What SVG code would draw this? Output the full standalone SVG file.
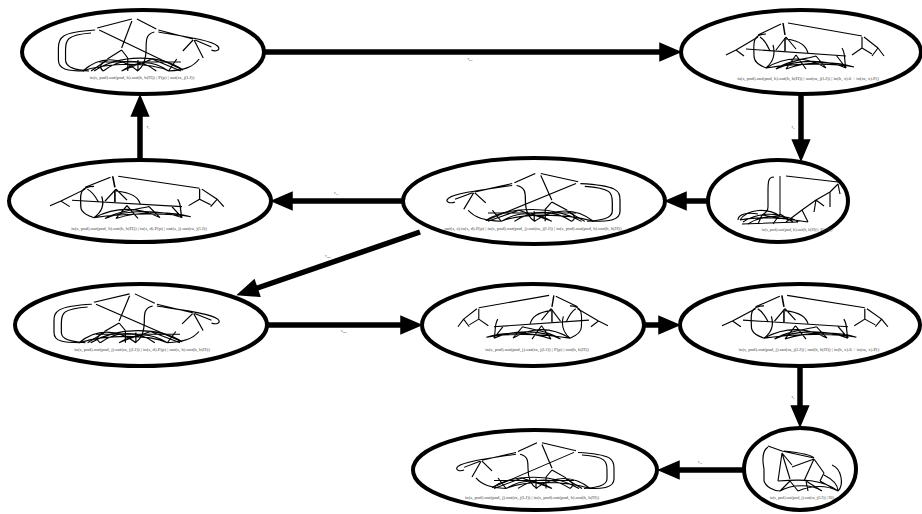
<svg xmlns="http://www.w3.org/2000/svg" xmlns:xlink="http://www.w3.org/1999/xlink" width="922" height="514" viewBox="0 0 922 514">
<style>
  .node { fill: #fff; stroke: #000; stroke-width: 4; }
  .edge { fill: none; stroke: #000; stroke-width: 5.5; }
  .in { fill: none; stroke: #000; stroke-width: 1.15; }
  .lbl { font-family: "Liberation Serif", serif; font-size: 4.8px; fill: #444; text-anchor: middle; }
  .sm { font-size: 4.1px; }
  .elbl { font-family: "Liberation Serif", serif; font-size: 4px; fill: #555; text-anchor: middle; }
</style>
<defs>
  <marker id="arr" markerUnits="userSpaceOnUse" markerWidth="22" markerHeight="20" refX="1" refY="9" orient="auto" overflow="visible">
    <path d="M0,0.5 L20,9 L0,17.5 z" fill="#000" stroke="#000" stroke-width="1.5"/>
  </marker>
  <g id="t1" class="in">
    <path d="M-8,-31 L-42,-22 M-3,-31 L16,-21 M-8,-29 L-18,-2"/>
    <path d="M18,-20 L52,-11 M18,-18 C40,-14 70,-10 76,-4 C80,0 74,2 70,0"/>
    <path d="M52,-10 L42,1 M53,-10 L62,8 M54,-10 L70,-3"/>
    <path d="M-44,-20 C-78,-18 -80,-12 -80,-2 L-80,10 C-80,20 -70,21 -55,21"/>
    <path d="M-48,-17 C-72,-15 -73,-10 -73,0 L-73,10 C-73,18 -62,20 -50,21"/>
    <path d="M-40,-20 L42,20"/>
    <path d="M14,-18 C6,-16 6,-10 6,-2 C6,12 2,18 -3,21"/>
    <path d="M-18,0 L-32,9 M-18,0 L-12,8"/>
    <path d="M-56,21 C-40,6 -20,6 -2,21 M-36,21 C-20,8 0,8 16,21 M-18,21 C-2,10 12,10 28,21 M-56,21 C-30,12 10,12 28,21 M-32,10 C-40,14 -40,18 -36,21 M12,9 C0,14 -10,17 -18,21 M36,9 L28,21 M58,9 C52,17 44,20 28,21 M-45,21 C-20,4 20,4 42,20 M-2,21 L-2,10"/>
    <path d="M-32,10 L-48,21 M-12,8 L-12,21 M12,9 L40,21 M-40,12 L40,12"/>
  </g>
  <g id="t2" class="in">
    <path d="M-8,-26 L-8,12" stroke-width="1.5" stroke="#555"/>
    <path d="M-14,-25 C-20,-25 -20,-20 -20,-10 L-20,5 C-20,10 -24,12 -26,13"/>
    <path d="M-2,-26 L50,-20"/>
    <path d="M50,-18 L42,-10 M50,-18 L52,-8 M42,-10 L28,-2 M42,-10 L42,5 M28,-2 L14,8 M28,-2 L36,4 M28,-2 L26,10"/>
    <path d="M-48,18 C-40,6 -20,6 -8,14 M-45,20 C-30,10 -10,10 0,18 M-40,22 C-25,12 0,12 10,20 M-48,18 C-30,14 0,16 20,20 M-26,13 L-30,22 M-8,12 L-15,22 M-8,12 L5,20 M14,8 L20,20 M14,8 L-2,20 M-26,13 C-10,16 5,18 20,20"/>
    <path d="M-50,18 C-50,12 -40,10 -30,12 M-46,22 L10,20"/>
  </g>
  <g id="t3" class="in">
    <path d="M-34,-23 L-20,-18 M-20,-18 L12,-11 M-18,-18 C0,-16 10,-14 12,-11"/>
    <path d="M-34,-22 C-40,-18 -40,-10 -38,0 L-38,12 C-36,18 -28,22 -22,22"/>
    <path d="M-20,-16 L-24,12 M-20,-16 L-10,-4 M-20,-16 L-12,10"/>
    <path d="M12,-10 L2,12 M12,-10 L22,4 M12,-10 L-10,-2 M22,4 L18,12 M22,6 C30,10 36,16 36,22"/>
    <path d="M-12,12 L-22,22 M-12,12 L-4,22 M4,12 L6,22 M4,12 L20,22 M18,12 L36,22 M-22,22 C-10,15 10,15 20,22 M-4,22 C10,16 25,16 36,22 M-24,12 C0,10 20,10 36,22"/>
    <path d="M30,-4 C40,0 42,16 36,22"/>
  </g>
  <g id="t4" class="in">
    <path d="M-23,-28 L-21,-16 M-21,-13 L-21,0" stroke-width="1.5"/>
    <path d="M-18,-28 L56,-15"/>
    <path d="M-25,-27 L-48,-16 M-48,-14 L-70,-1 M-70,-1 L-80,4 M-70,-1 L-62,5"/>
    <path d="M-46,-14 C-40,-10 -38,-4 -36,0"/>
    <path d="M-20,-14 L-30,-1 M-20,-14 L-10,-2 M-20,-12 C-5,-10 0,-5 2,2"/>
    <path d="M56,-14 L56,-3 M56,-3 L46,4 M56,-3 L66,3 M58,-14 L72,-3 M72,-3 L78,5 M72,-3 L66,5"/>
    <path d="M-40,-17 C-55,-17 -52,-5 -52,5 C-52,12 -45,15 -40,17"/>
    <path d="M-40,17 C-20,5 0,5 20,17 M-30,18 C-10,8 20,8 40,17 M-20,18 C0,10 30,10 48,16 M-40,17 C-10,12 30,12 48,16 M-60,-2 L40,5 M-20,18 L-10,4 M0,18 L-10,4 M20,17 L10,5 M40,17 L30,4 M-30,18 C-20,10 0,8 10,5"/>
    <path d="M36,-3 C40,3 38,12 40,17 M-33,-6 C-30,5 -34,12 -40,17"/>
  </g>
</defs>

<g id="connectors">
  <path class="edge" d="M264,52 L661,52" marker-end="url(#arr)"/>
  <text class="elbl" x="470" y="60">τ<tspan font-size="2.8px" dy="0.8">out</tspan></text>
  <path class="edge" d="M801,95 L801,141" marker-end="url(#arr)"/>
  <text class="elbl" x="793" y="128">τ<tspan font-size="2.8px" dy="0.8">h</tspan></text>
  <path class="edge" d="M708,201 L685,201" marker-end="url(#arr)"/>
  <path class="edge" d="M403,201 L291,201" marker-end="url(#arr)"/>
  <text class="elbl" x="336" y="194">τ<tspan font-size="2.8px" dy="0.8">ra</tspan></text>
  <path class="edge" d="M140,159 L140,115" marker-end="url(#arr)"/>
  <text class="elbl" x="148" y="128">τ<tspan font-size="2.8px" dy="0.8">s</tspan></text>
  <path class="edge" d="M420,232 L256,288.5" marker-end="url(#arr)"/>
  <text class="elbl" x="328" y="257">τ<tspan font-size="2.8px" dy="0.8">pnd</tspan></text>
  <path class="edge" d="M267,325 L402,325" marker-end="url(#arr)"/>
  <text class="elbl" x="344" y="332">τ<tspan font-size="2.8px" dy="0.8">pnd</tspan></text>
  <path class="edge" d="M644,325 L660,325" marker-end="url(#arr)"/>
  <path class="edge" d="M800,367 L800,407" marker-end="url(#arr)"/>
  <text class="elbl" x="793" y="398">τ<tspan font-size="2.8px" dy="0.8">h</tspan></text>
  <path class="edge" d="M744,470 L678,470" marker-end="url(#arr)"/>
  <text class="elbl" x="700" y="463">τ<tspan font-size="2.8px" dy="0.8">ra</tspan></text>
</g>

<g id="n1">
  <ellipse class="node" cx="143" cy="52" rx="121" ry="42"/>
  <use xlink:href="#t1" transform="translate(140,50) scale(1.02,1)"/>
  <text class="lbl" x="142" y="79">in(s, pnd).out(pnd, h).out(h, h(H)) | P(p) | out(ra, j(l.J))</text>
</g>
<g id="n2">
  <ellipse class="node" cx="801" cy="52" rx="120" ry="42"/>
  <use xlink:href="#t4" transform="translate(806,51)"/>
  <text class="lbl" x="808" y="80">in(s, pnd).out(pnd, h).out(h, h(H)) | out(ra, j(l.J)) | in(h, x).0 + in(ra, x).P()</text>
</g>
<g id="n3">
  <ellipse class="node" cx="140" cy="201" rx="131" ry="41"/>
  <use xlink:href="#t4" transform="translate(138,202) scale(1.1,0.92)"/>
  <text class="lbl" x="139" y="230">in(s, pnd).out(pnd, h).out(h, h(H)) | in(s, d).P(p) | out(s, j).out(ra, j(l.J))</text>
</g>
<g id="n4">
  <ellipse class="node" cx="534" cy="201" rx="131" ry="43"/>
  <use xlink:href="#t1" transform="translate(532,202) scale(-1.1,0.92)"/>
  <text class="lbl" x="533" y="230">out(s, s).in(s, d).P(p) | in(s, pnd).out(pnd, j).out(ra, j(l.J)) | in(s, pnd).out(pnd, h).out(h, h(H))</text>
</g>
<g id="n5">
  <ellipse class="node" cx="778" cy="201" rx="70" ry="41"/>
  <use xlink:href="#t2" transform="translate(788,202)"/>
  <text class="lbl sm" x="797" y="231">in(s, pnd).out(pnd, h).out(h, h(H)) | J() | P()</text>
</g>
<g id="n6">
  <ellipse class="node" cx="141" cy="325" rx="126" ry="41"/>
  <use xlink:href="#t1" transform="translate(138,323) scale(1.05,0.94)"/>
  <text class="lbl" x="142" y="351">in(s, pnd).out(pnd, j).out(ra, j(l.J)) | in(s, d).P(p) | out(s, h).out(h, h(H))</text>
</g>
<g id="n7">
  <ellipse class="node" cx="533" cy="325" rx="111" ry="41"/>
  <use xlink:href="#t4" transform="translate(532,322) scale(-0.95,0.95)"/>
  <text class="lbl" x="537" y="351">in(s, pnd).out(pnd, j).out(ra, j(l.J)) | P(p) | out(h, h(H))</text>
</g>
<g id="n8">
  <ellipse class="node" cx="800" cy="325" rx="120" ry="41"/>
  <use xlink:href="#t4" transform="translate(806,322) scale(1.05,0.95)"/>
  <text class="lbl" x="809" y="351">in(s, pnd).out(pnd, j).out(ra, j(l.J)) | out(h, h(H)) | in(h, x).0 + in(ra, x).P()</text>
</g>
<g id="n9">
  <ellipse class="node" cx="800" cy="469" rx="56" ry="41"/>
  <use xlink:href="#t3" transform="translate(802,469)"/>
  <text class="lbl sm" x="802" y="499">in(s, pnd).out(pnd, j).out(ra, j(l.J)) | H()</text>
</g>
<g id="n10">
  <ellipse class="node" cx="535" cy="470" rx="122" ry="40"/>
  <use xlink:href="#t1" transform="translate(534,470) scale(-1.0,0.88)"/>
  <text class="lbl" x="532" y="499">in(s, pnd).out(pnd, j).out(ra, j(l.J)) | in(s, pnd).out(pnd, h).out(h, h(H))</text>
</g>
</svg>
